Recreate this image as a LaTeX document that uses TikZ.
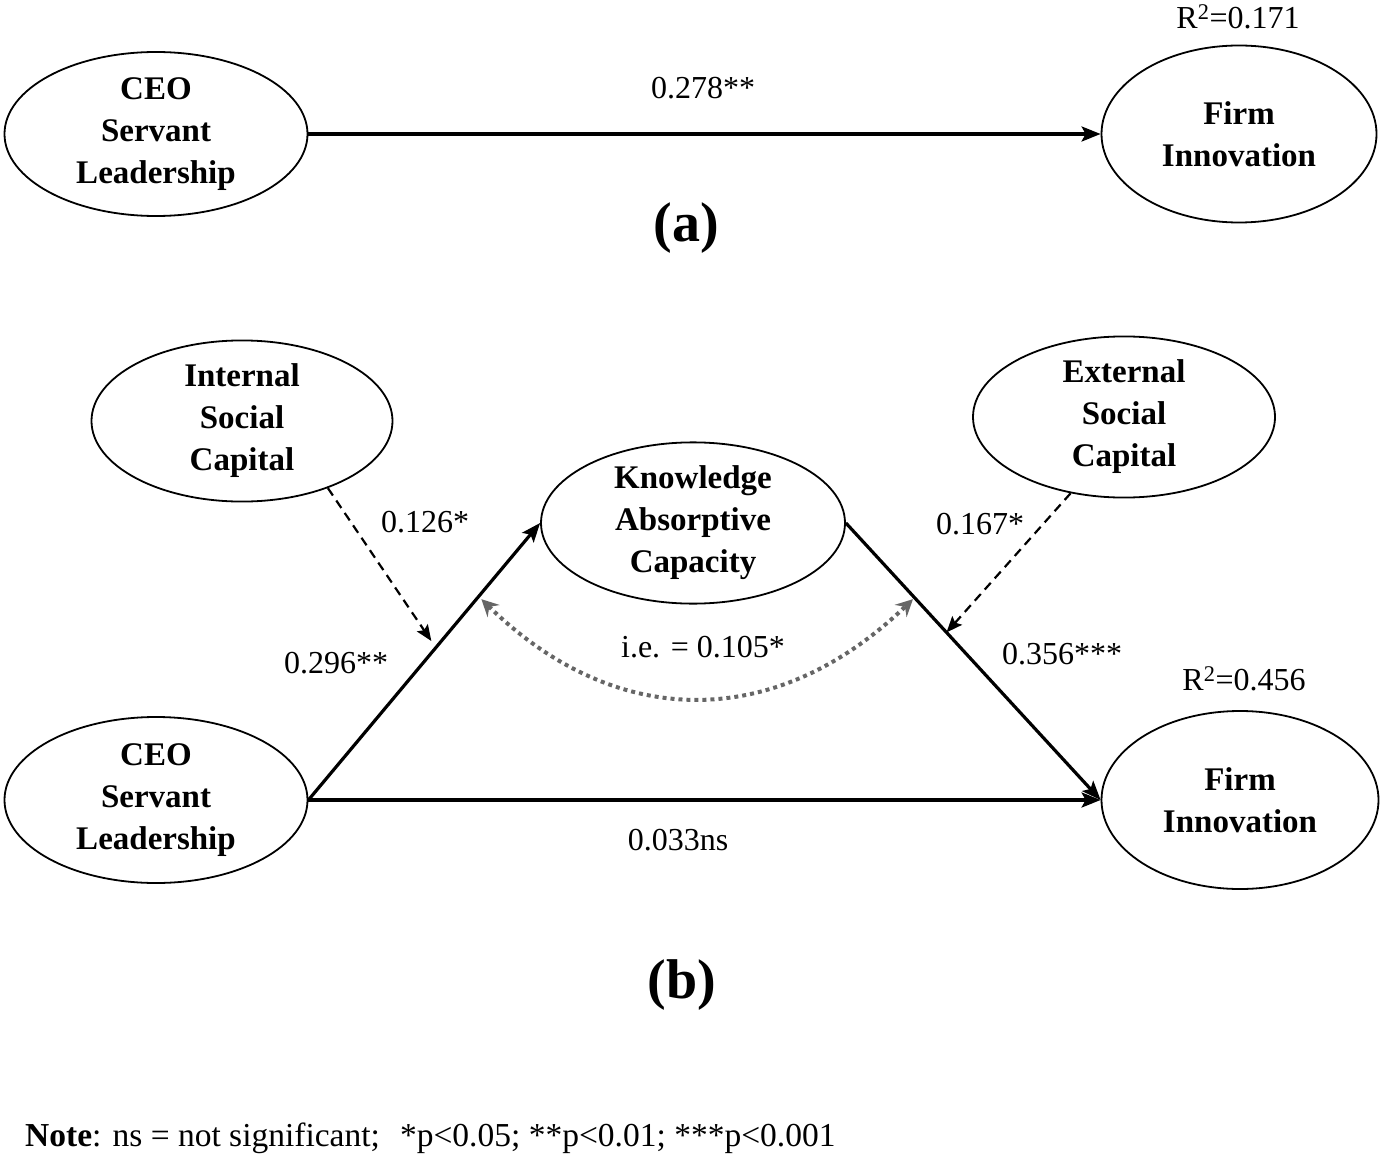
\documentclass[tikz,border=0pt]{standalone}
\usepackage{fontspec}
\setmainfont{Liberation Serif}
\usetikzlibrary{shapes.geometric,arrows.meta,calc}
\begin{document}
\begin{tikzpicture}[x=1pt,y=-1pt,
  lat/.style={ellipse,draw,line width=1.8pt,inner sep=0pt,align=center,
    font=\fontsize{33}{42}\selectfont\bfseries},
  lbl/.style={font=\fontsize{32}{38}\selectfont,inner sep=0pt},
  panel/.style={font=\fontsize{56}{60}\selectfont\bfseries,inner sep=0pt},
  mainarrow/.style={line width=3.2pt,-{Stealth[length=19pt,width=15pt,inset=4pt]}},
  modarrow/.style={line width=2.2pt,dash pattern=on 9pt off 6pt,-{Stealth[length=16pt,width=13pt,inset=3pt]}},
  ieArc/.style={line width=4pt,color=black!60,dash pattern=on 4pt off 4pt,
    {Stealth[length=17pt,width=17pt,inset=6pt]}-{Stealth[length=17pt,width=17pt,inset=6pt]}}
]
\useasboundingbox (0,0) rectangle (1381,1158);

% ---------- panel (a)
\node[lat,minimum width=303pt,minimum height=164pt] (ceoA) at (156,134) {CEO\\Servant\\Leadership};
\node[lat,minimum width=275pt,minimum height=177pt] (fiA) at (1239,134) {Firm\\Innovation};
\draw[mainarrow] (ceoA.east) -- (fiA.west);
\node[lbl] (bA) at (703,88) {0.278**};
\node[lbl] (r2A) at (1238,17) {R\textsuperscript{2}=0.171};
\node[panel] (pa) at (686,228) {(a)};

% ---------- panel (b)
\node[lat,minimum width=301pt,minimum height=154pt] (isc) at (242,421) {Internal\\Social\\Capital};
\node[lat,minimum width=304pt,minimum height=160pt] (kac) at (693,523) {Knowledge\\Absorptive\\Capacity};
\node[lat,minimum width=302pt,minimum height=156pt] (esc) at (1124,417) {External\\Social\\Capital};
\node[lat,minimum width=303pt,minimum height=166pt] (ceoB) at (156,800) {CEO\\Servant\\Leadership};
\node[lat,minimum width=277pt,minimum height=178pt] (fiB) at (1240,800) {Firm\\Innovation};

\draw[mainarrow] (ceoB.east) -- (kac.west);
\draw[mainarrow] (kac.east) -- (fiB.west);
\draw[mainarrow] (ceoB.east) -- (fiB.west);

\coordinate (m1) at ($(ceoB.east)!0.55!(kac.west)$);
\coordinate (m2) at ($(kac.east)!0.395!(fiB.west)$);
\draw[modarrow,shorten >=8pt] (isc.-38) -- (m1);
\draw[modarrow] (esc.-125) -- (m2);

\coordinate (e1) at ($(ceoB.east)!0.725!(kac.west)$);
\coordinate (e2) at ($(kac.east)!0.275!(fiB.west)$);
\draw[ieArc] ($(e1)+(5,0)$) .. controls ($(e1)+(140,132)$) and ($(e2)+(-140,132)$) .. ($(e2)+(-3,0)$);

\node[lbl] (l126) at (425,522) {0.126*};
\node[lbl] (l296) at (336,663) {0.296**};
\node[lbl] (l167) at (980,524) {0.167*};
\node[lbl] (l356) at (1062,654) {0.356***};
\node[lbl] (lie) at (703,647) {i.e. = 0.105*};
\node[lbl] (r2B) at (1244,679) {R\textsuperscript{2}=0.456};
\node[lbl] (l033) at (678,840) {0.033ns};
\node[panel] (pb) at (682,985) {(b)};

\node[lbl,anchor=base west,font=\fontsize{33.5}{38}\selectfont] (note) at (25,1146)
  {\textbf{Note}: ns = not significant;\hspace{0.6em}*p<0.05; **p<0.01; ***p<0.001};
\end{tikzpicture}
\end{document}
